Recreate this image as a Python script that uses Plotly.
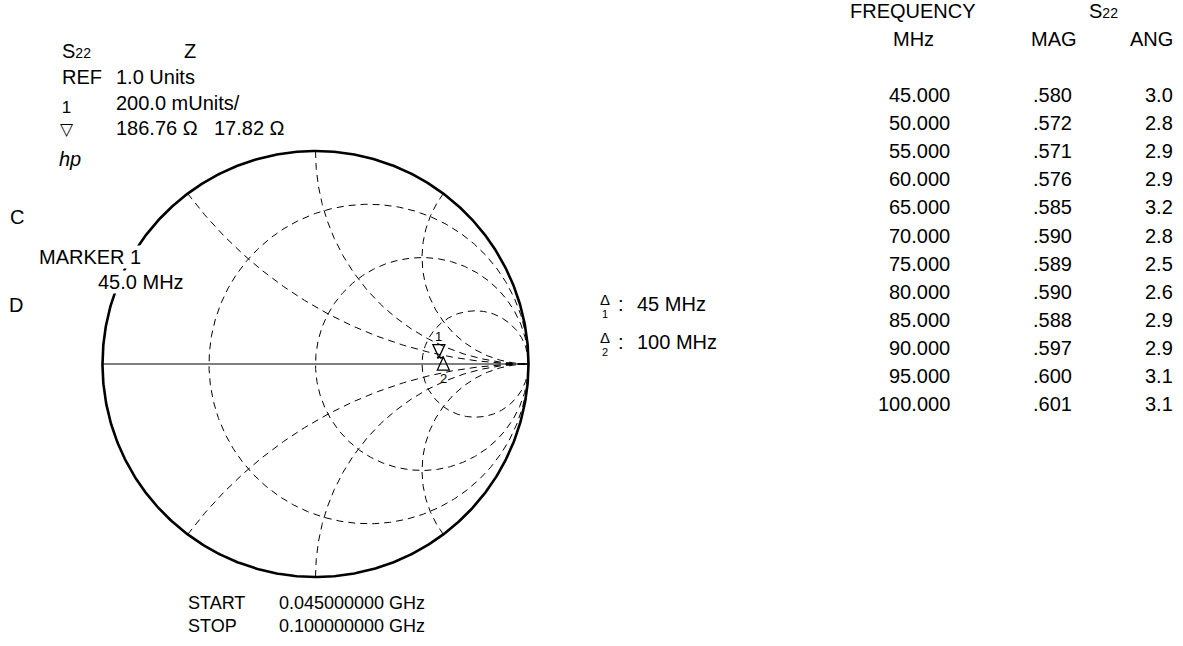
import numpy as np
import plotly.graph_objects as go

# ---------------- data ----------------
freq_mhz = [45, 50, 55, 60, 65, 70, 75, 80, 85, 90, 95, 100]
s22_mag = [0.580, 0.572, 0.571, 0.576, 0.585, 0.590, 0.589, 0.590, 0.588, 0.597, 0.600, 0.601]
s22_ang = [3.0, 2.8, 2.9, 2.9, 3.2, 2.8, 2.5, 2.6, 2.9, 2.9, 3.1, 3.1]
freq_labels = ["45.000", "50.000", "55.000", "60.000", "65.000", "70.000",
               "75.000", "80.000", "85.000", "90.000", "95.000", "100.000"]
mag_labels = [".580", ".572", ".571", ".576", ".585", ".590",
              ".589", ".590", ".588", ".597", ".600", ".601"]
ang_labels = ["3.0", "2.8", "2.9", "2.9", "3.2", "2.8",
              "2.5", "2.6", "2.9", "2.9", "3.1", "3.1"]
r_circles = [1 / 3, 1.0, 3.0]      # constant-resistance grid circles
x_arcs = [0.5, 1.0, 2.0]           # constant-reactance grid arcs (+/-)

# ---------------- geometry of the page ----------------
W, H = 1183, 646
CX, CY, R = 315.5, 364.0, 213.0     # pixel centre / radius of the Smith chart
FONT = "Liberation Sans, Arial, Helvetica, sans-serif"
FS = 20
DASH = "7px,5px"

fig = go.Figure()

# resistance circles
t = np.linspace(0, 2 * np.pi, 721)
for r in r_circles:
    c = r / (1 + r)
    rad = 1 / (1 + r)
    fig.add_trace(go.Scatter(x=c + rad * np.cos(t), y=rad * np.sin(t), mode="lines",
                             line=dict(color="black", width=1, dash=DASH),
                             hoverinfo="skip", showlegend=False))

# reactance arcs
rr = np.concatenate([np.linspace(0, 1, 200), np.logspace(0, 3.5, 400)[1:]])
for xv in x_arcs:
    for sgn in (1, -1):
        z = rr + 1j * sgn * xv
        g = (z - 1) / (z + 1)
        fig.add_trace(go.Scatter(x=g.real, y=g.imag, mode="lines",
                                 line=dict(color="black", width=1, dash=DASH),
                                 hoverinfo="skip", showlegend=False))

# real axis
fig.add_trace(go.Scatter(x=[-1, 1], y=[0, 0], mode="lines",
                         line=dict(color="black", width=1.2),
                         hoverinfo="skip", showlegend=False))
# outer circle
fig.add_trace(go.Scatter(x=np.cos(t), y=np.sin(t), mode="lines",
                         line=dict(color="black", width=2.6),
                         hoverinfo="skip", showlegend=False))

# S22 trace
mag = np.array(s22_mag)
ang = np.deg2rad(np.array(s22_ang))
gx = mag * np.cos(ang)
gy = mag * np.sin(ang)
fig.add_trace(go.Scatter(x=gx, y=gy, mode="lines",
                         line=dict(color="black", width=1.6),
                         hoverinfo="skip", showlegend=False))

shapes = [
    dict(type="path", xref="x", yref="y", xsizemode="pixel", ysizemode="pixel",
         xanchor=float(gx[0]), yanchor=float(gy[0]),
         path="M -6,13 L 6,13 L 0,0 Z", line=dict(color="black", width=1.3)),
    dict(type="path", xref="x", yref="y", xsizemode="pixel", ysizemode="pixel",
         xanchor=float(gx[-1]), yanchor=float(gy[-1]),
         path="M -6,-13 L 6,-13 L 0,0 Z", line=dict(color="black", width=1.3)),
]


def ann(text, px, py, size=FS, xanchor="left", **kw):
    return dict(text=text, x=px / W, y=1 - py / H, xref="paper", yref="paper",
                xanchor=xanchor, yanchor="middle", showarrow=False, borderpad=0,
                font=dict(size=size, family=FONT, color="black"), **kw)


annotations = []
# marker numbers on the trace
annotations.append(dict(text="1", x=float(gx[0]), y=float(gy[0]), xref="x", yref="y",
                        yshift=21, showarrow=False, font=dict(size=13, family=FONT, color="black")))
annotations.append(dict(text="2", x=float(gx[-1]), y=float(gy[-1]), xref="x", yref="y",
                        yshift=-21, showarrow=False, font=dict(size=13, family=FONT, color="black")))

# top-left block
annotations += [
    ann('S<span style="font-size:14px">22</span>', 61, 51),
    ann("Z", 183, 51),
    ann("REF", 61, 77),
    ann("1.0 Units", 115, 77),
    ann("200.0 mUnits/", 115, 103.5),
    ann('1<br>\u25bd', 66.5, 118, size=17, xanchor="center", align="center"),
    ann("186.76 \u03a9", 115, 128.5),
    ann("17.82 \u03a9", 213, 128.5),
    ann("<i>hp</i>", 58, 159),
    ann("C", 9, 217),
    ann("MARKER 1", 38, 257, bgcolor="white"),
    ann("45.0 MHz", 97, 282, bgcolor="white"),
    ann("D", 8, 305),
    ann("START<br>STOP", 187, 614, size=18, align="left"),
    ann("0.045000000 GHz<br>0.100000000 GHz", 278, 614, size=18, align="left"),
]

# delta legend
for i, (lbl, txt) in enumerate([("1", "45 MHz"), ("2", "100 MHz")]):
    yc = 304 + 38 * i
    annotations += [
        ann("\u0394", 604.5, yc - 5, size=15, xanchor="center"),
        ann(lbl, 604.5, yc + 10, size=11, xanchor="center"),
        ann(":", 617, yc),
        ann(txt, 636, yc),
    ]

# table
annotations += [
    ann("FREQUENCY", 912.5, 11, xanchor="center"),
    ann('S<span style="font-size:14px">22</span>', 1103.5, 11, xanchor="center"),
    ann("MHz", 913.5, 39, xanchor="center"),
    ann("MAG", 1053.5, 39, xanchor="center"),
    ann("ANG", 1151.5, 39, xanchor="center"),
]
for i in range(len(freq_labels)):
    yc = 95 + 28.1 * i
    annotations += [
        ann(freq_labels[i], 951, yc, xanchor="right"),
        ann(mag_labels[i], 1073, yc, xanchor="right"),
        ann(ang_labels[i], 1174, yc, xanchor="right"),
    ]

fig.update_layout(
    width=W, height=H,
    margin=dict(l=0, r=0, t=0, b=0),
    paper_bgcolor="white", plot_bgcolor="white",
    showlegend=False,
    xaxis=dict(range=[-CX / R, (W - CX) / R], visible=False, fixedrange=True),
    yaxis=dict(range=[-(H - CY) / R, CY / R], visible=False, fixedrange=True),
    shapes=shapes,
    annotations=annotations,
)

fig.write_html("out.html", config={"displayModeBar": False},
               post_script="document.body.style.margin='0';document.body.style.overflow='hidden';")
